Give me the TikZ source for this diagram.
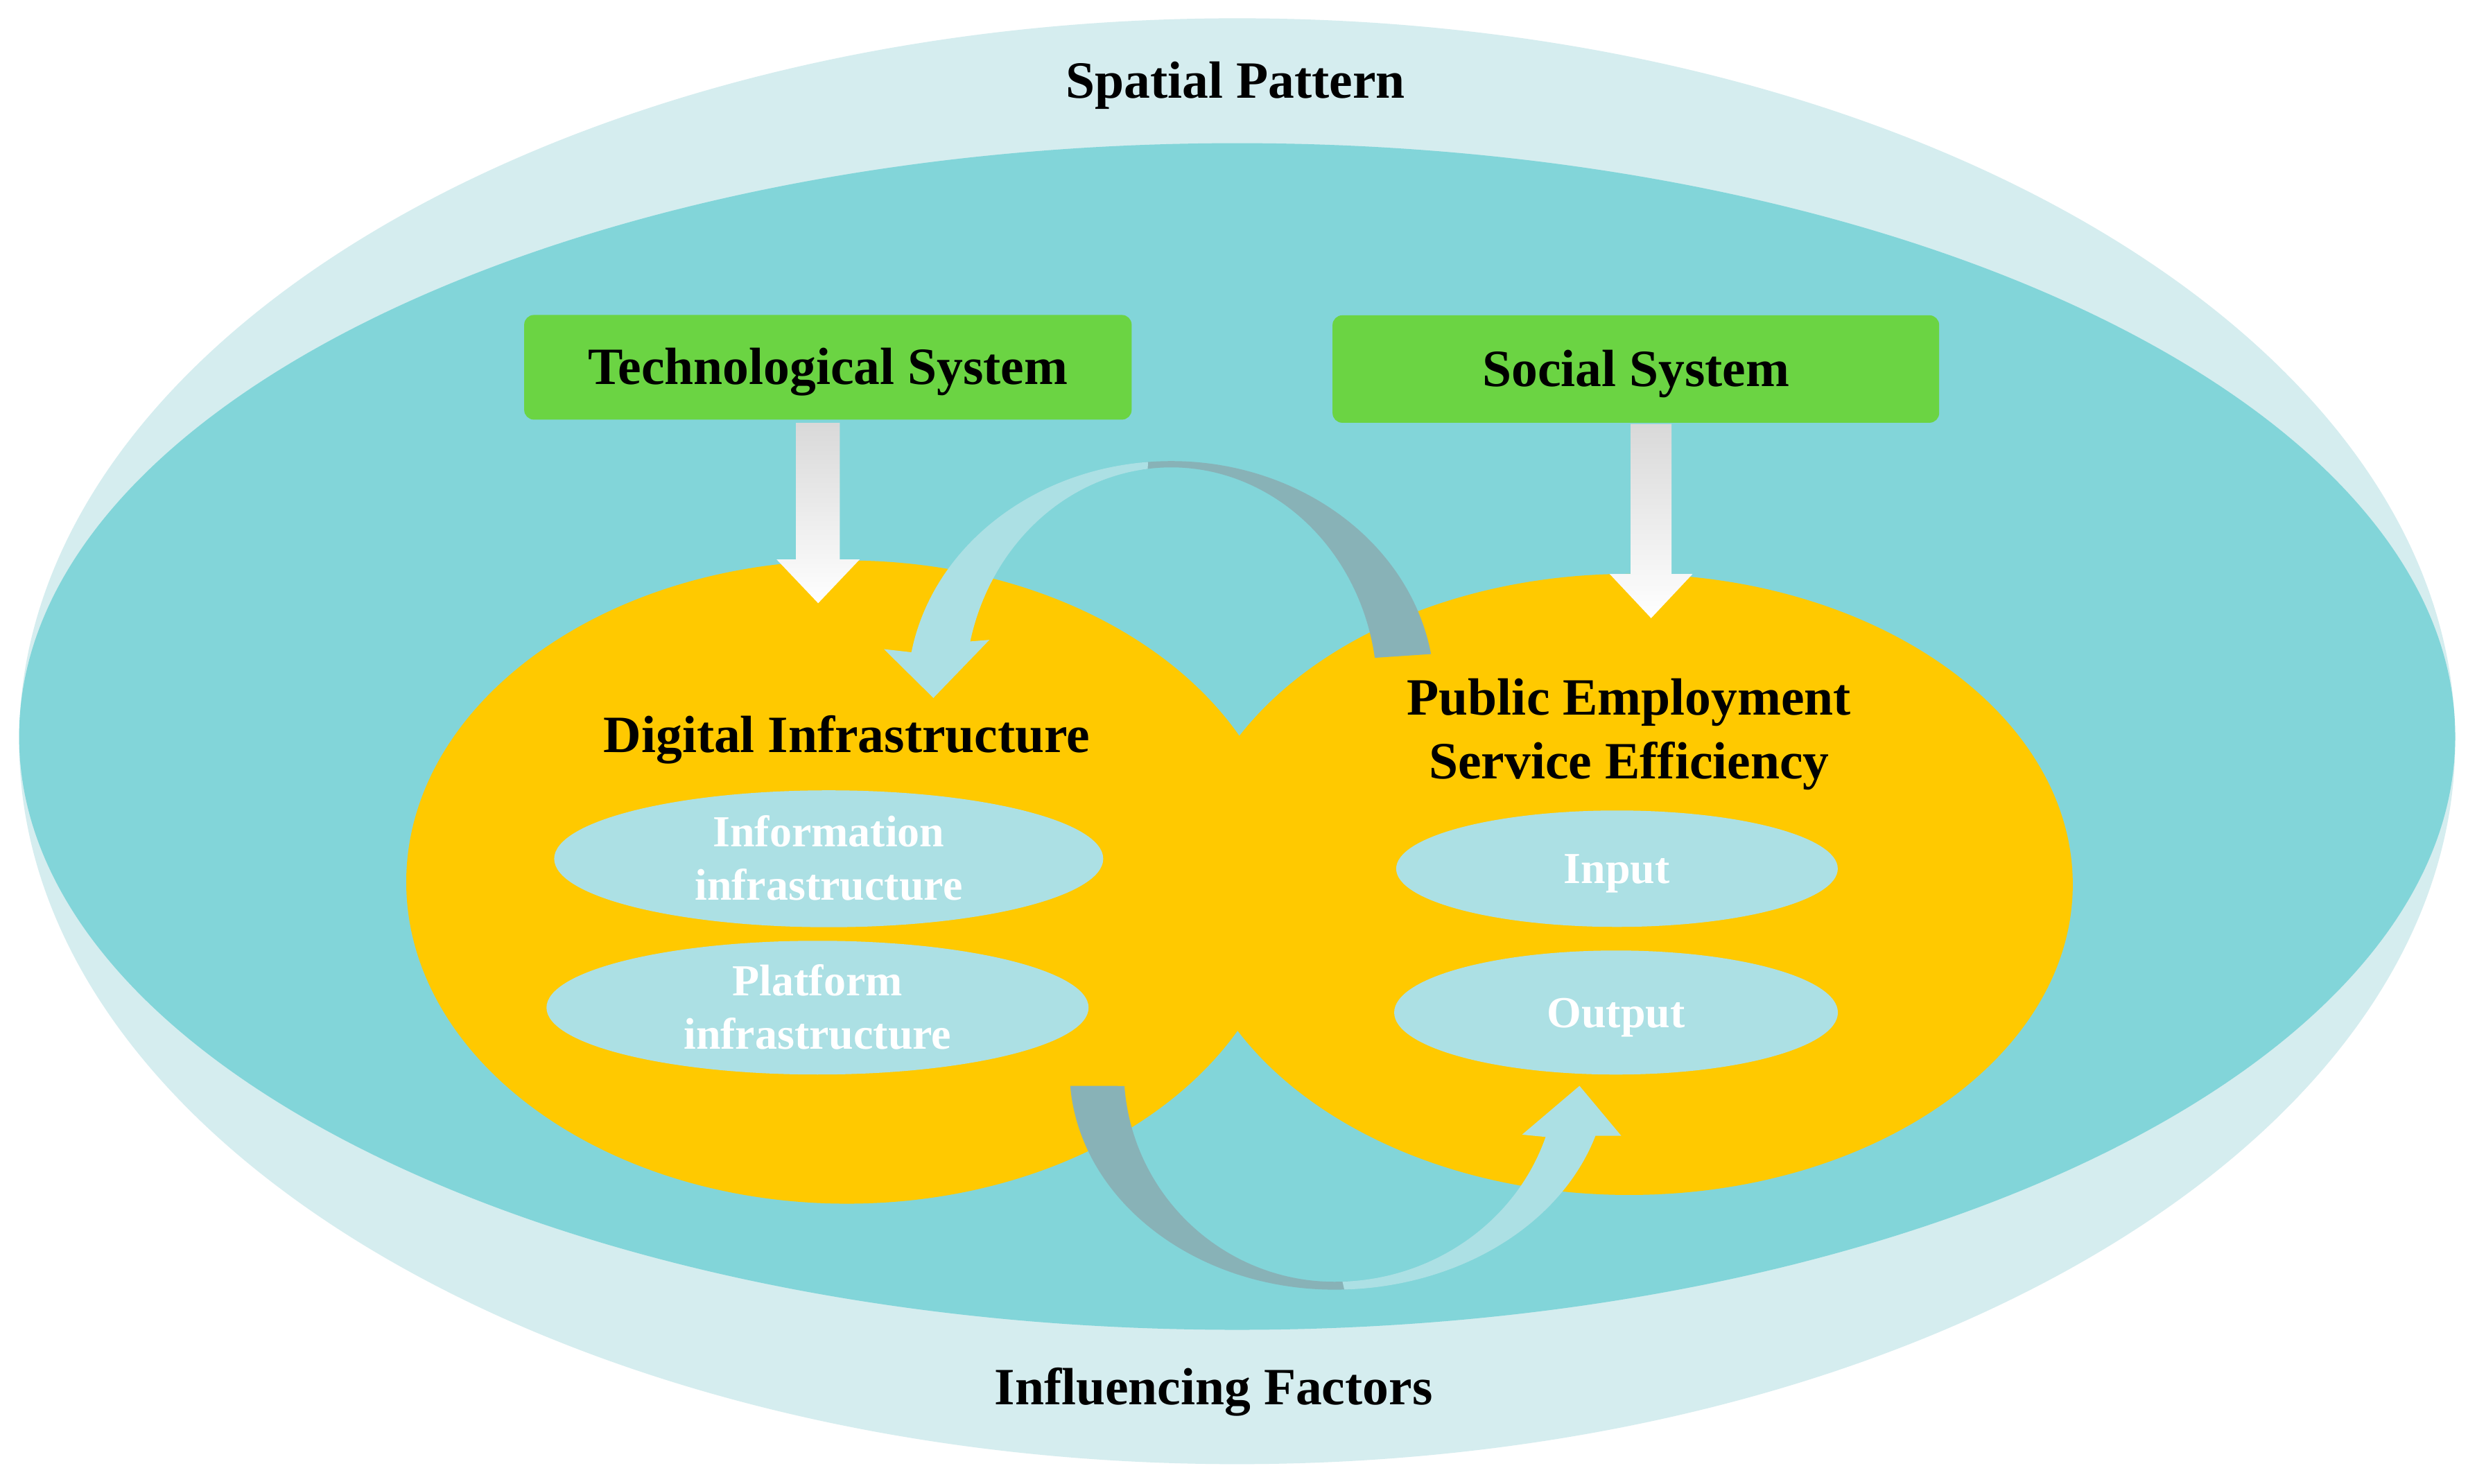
\documentclass[tikz,border=0pt]{standalone}
\usepackage{fontspec}
\setmainfont{Liberation Serif}
\usetikzlibrary{shapes.geometric}
\definecolor{outerc}{HTML}{D5EDEF}
\definecolor{innerc}{HTML}{82D5D9}
\definecolor{yel}{HTML}{FFC900}
\definecolor{grn}{HTML}{6BD443}
\definecolor{pale}{HTML}{ACE0E4}
\definecolor{darkarr}{HTML}{88B2B7}
\tikzset{
  blob/.style={ellipse, inner sep=0pt, outer sep=0pt, draw=none},
  sysbox/.style={rectangle, rounded corners=0.14cm, fill=grn, inner sep=0pt, outer sep=0pt,
    font=\bfseries\fontsize{21.5}{26.2}\selectfont, text height=14.2pt, text depth=0pt},
  title/.style={font=\bfseries\fontsize{21.5}{26.2}\selectfont, inner sep=0pt, anchor=base},
  subell/.style={blob, fill=pale, text=white, font=\bfseries\fontsize{18.2}{21.96}\selectfont},
  oneline/.style={text height=12.1pt, text depth=0pt},
  twoline/.style={text height=34.1pt, text depth=0pt},
  whitearrow/.style={top color=black!15, middle color=white, bottom color=white, draw=none},
}
\begin{document}
\begin{tikzpicture}[x=0.0227cm, y=-0.0227cm]
\useasboundingbox (0,0) rectangle (1568,943);
\fill[white] (0,0) rectangle (1568,943);

% background ellipses
\node[blob, fill=outerc, minimum width=35.14cm, minimum height=20.86cm] (outer) at (786,471) {};
\node[blob, fill=innerc, minimum width=35.14cm, minimum height=17.12cm] (inner) at (786,468) {};

% yellow ellipses
\node[blob, fill=yel, minimum width=12.71cm, minimum height=9.28cm] (dig) at (538,560.5) {};
\node[blob, fill=yel, minimum width=12.80cm, minimum height=8.96cm] (pub) at (1035,562) {};

% outer texts
\node[title] (sp) at (785,62.4) {Spatial Pattern};
\node[title] (inf) at (771,892.5) {Influencing Factors};

% system boxes
\node[sysbox, minimum width=8.762cm, minimum height=1.51cm] (tech) at (526,233.4) {Technological System};
\node[sysbox, minimum width=8.75cm, minimum height=1.55cm] (soc) at (1039.3,234.5) {Social System};

% titles in yellow ellipses
\node[title] (digt) at (538,478) {Digital Infrastructure};
\node[title] (pubt) at (1035,454.5) {\begin{tabular}[t]{@{}c@{}}Public Employment\\Service Efficiency\end{tabular}};

% sub ellipses
\node[subell, twoline, minimum width=7.92cm, minimum height=1.975cm] (info) at (526.5,545.7)
  {\begin{tabular}[b]{@{}c@{}}Information\\infrastructure\end{tabular}};
\node[subell, twoline, minimum width=7.82cm, minimum height=1.93cm] (plat) at (519.4,640.3)
  {\begin{tabular}[b]{@{}c@{}}Platform\\infrastructure\end{tabular}};
\node[subell, oneline, minimum width=6.37cm, minimum height=1.68cm] (inp) at (1027.3,552) {Input};
\node[subell, oneline, minimum width=6.40cm, minimum height=1.79cm] (outp) at (1026.7,643.4) {Output};

% white block arrows from the system boxes
\coordinate (techtip) at (519.8,383.3);
\coordinate (soctip) at (1049,392.8);
\path[whitearrow] (505.7,268.7) -- (533.5,268.7) -- (533.5,355.5) -- (546.2,355.5) -- (techtip)
  -- (493.4,355.5) -- (505.7,355.5) -- cycle;
\path[whitearrow] (1036,269.4) -- (1062,269.4) -- (1062,364.8) -- (1075.3,364.8) -- (soctip)
  -- (1022.7,364.8) -- (1036,364.8) -- cycle;

% upper circular arrow
\begin{scope}[shift={(744,440)}]
\fill[darkarr] (-9.55:167.5 and 147) arc[start angle=-9.55, end angle=-96.5, x radius=167.5, y radius=147]
  -- (-98:131 and 143) arc[start angle=-98, end angle=-8.85, x radius=131, y radius=143] -- cycle;
\fill[pale] (-95:167.5 and 147) arc[start angle=-95, end angle=-170, x radius=167.5, y radius=147]
  -- (-182.4,-27.5) -- (-151,3.5) -- (-115.4,-33.4)
  -- (-166.9:131 and 143) arc[start angle=-166.9, end angle=-96.5, x radius=131, y radius=143] -- cycle;
\end{scope}

% lower circular arrow
\begin{scope}[shift={(848,680)}]
\fill[darkarr] (175.9:168.5 and 139.5) arc[start angle=175.9, end angle=86.5, x radius=168.5, y radius=139.5]
  -- (86.5:134 and 134.5) arc[start angle=86.5, end angle=175.7, x radius=134, y radius=134.5] -- cycle;
\fill[pale] (88:173.6 and 139.5) arc[start angle=88, end angle=17.4, x radius=173.6, y radius=139.5]
  -- (182,41.7) -- (155.5,10) -- (119,41)
  -- (18.4:141.2 and 134.5) arc[start angle=18.4, end angle=88, x radius=141.2, y radius=134.5] -- cycle;
\end{scope}
\end{tikzpicture}
\end{document}
